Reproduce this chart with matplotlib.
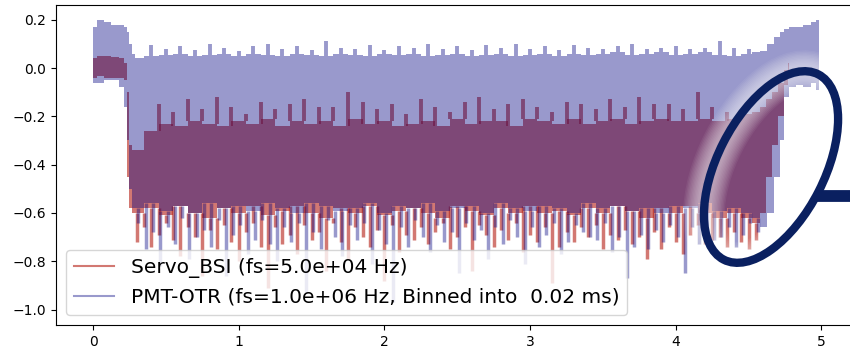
import numpy as np
import matplotlib.pyplot as plt
import matplotlib.patheffects as pe
from matplotlib.patches import Ellipse
from matplotlib.lines import Line2D
from matplotlib.transforms import IdentityTransform

# Servo_BSI: envelope of the dense trace (time in s)
servo_t = [0.0, 0.05, 0.1, 0.15, 0.2, 0.22, 0.24, 0.26, 0.28,
           0.3, 0.4, 0.5, 0.6, 0.7, 0.8, 0.9, 1.0, 1.1, 1.2,
           1.3, 1.4, 1.5, 1.6, 1.7, 1.8, 1.9, 2.0, 2.1, 2.2,
           2.3, 2.4, 2.5, 2.6, 2.7, 2.8, 2.9, 3.0, 3.1, 3.2,
           3.3, 3.4, 3.5, 3.6, 3.7, 3.8, 3.9, 4.0, 4.1, 4.2,
           4.3, 4.4, 4.5, 4.55, 4.6, 4.64, 4.68, 4.72, 4.76, 4.78]
servo_hi = [0.04, 0.05, 0.05, 0.045, 0.04, 0.02, -0.1, -0.32, -0.34,
            -0.34, -0.26, -0.23, -0.24, -0.22, -0.23, -0.24, -0.22, -0.23, -0.21,
            -0.24, -0.22, -0.23, -0.22, -0.24, -0.21, -0.23, -0.22, -0.24, -0.23,
            -0.22, -0.24, -0.21, -0.23, -0.22, -0.22, -0.24, -0.21, -0.22, -0.23,
            -0.21, -0.23, -0.22, -0.21, -0.23, -0.22, -0.21, -0.22, -0.22, -0.21,
            -0.22, -0.21, -0.19, -0.18, -0.16, -0.13, -0.1, -0.06, -0.01, 0.02]
servo_lo = [-0.04, -0.035, -0.04, -0.04, -0.04, -0.05, -0.45, -0.58, -0.6,
            -0.6, -0.58, -0.61, -0.57, -0.6, -0.62, -0.58, -0.6, -0.57, -0.61,
            -0.59, -0.57, -0.6, -0.62, -0.58, -0.6, -0.57, -0.61, -0.59, -0.58,
            -0.6, -0.62, -0.57, -0.59, -0.61, -0.58, -0.6, -0.57, -0.6, -0.59,
            -0.61, -0.58, -0.6, -0.57, -0.59, -0.62, -0.58, -0.6, -0.57, -0.6,
            -0.62, -0.6, -0.62, -0.64, -0.6, -0.45, -0.32, -0.2, -0.07, -0.02]

# PMT-OTR (binned): envelope
pmt_t = [0.0, 0.05, 0.1, 0.15, 0.2, 0.22, 0.24, 0.26, 0.28,
         0.3, 0.4, 0.5, 0.6, 0.7, 0.8, 0.9, 1.0, 1.1, 1.2,
         1.3, 1.4, 1.5, 1.6, 1.7, 1.8, 1.9, 2.0, 2.1, 2.2,
         2.3, 2.4, 2.5, 2.6, 2.7, 2.8, 2.9, 3.0, 3.1, 3.2,
         3.3, 3.4, 3.5, 3.6, 3.7, 3.8, 3.9, 4.0, 4.1, 4.2,
         4.3, 4.4, 4.5, 4.55, 4.6, 4.65, 4.7, 4.73, 4.76, 4.8,
         4.85, 4.9, 4.95, 4.98]
pmt_hi = [0.17, 0.2, 0.19, 0.18, 0.18, 0.17, 0.15, 0.1, 0.06,
          0.04, 0.05, 0.055, 0.06, 0.05, 0.055, 0.06, 0.05, 0.06, 0.055,
          0.05, 0.06, 0.055, 0.05, 0.06, 0.055, 0.05, 0.06, 0.055, 0.06,
          0.05, 0.055, 0.06, 0.05, 0.055, 0.06, 0.05, 0.055, 0.06, 0.05,
          0.06, 0.055, 0.06, 0.065, 0.055, 0.06, 0.065, 0.055, 0.06, 0.065,
          0.055, 0.05, 0.06, 0.065, 0.07, 0.1, 0.13, 0.15, 0.16, 0.17,
          0.17, 0.18, 0.19, 0.2]
pmt_lo = [-0.06, -0.06, -0.05, -0.05, -0.08, -0.16, -0.3, -0.5, -0.58,
          -0.58, -0.56, -0.59, -0.57, -0.6, -0.56, -0.58, -0.57, -0.59, -0.56,
          -0.58, -0.6, -0.56, -0.57, -0.59, -0.58, -0.56, -0.6, -0.57, -0.58,
          -0.56, -0.59, -0.58, -0.57, -0.6, -0.56, -0.58, -0.59, -0.57, -0.58,
          -0.6, -0.56, -0.58, -0.57, -0.59, -0.58, -0.6, -0.57, -0.58, -0.56,
          -0.59, -0.58, -0.6, -0.62, -0.66, -0.6, -0.45, -0.3, -0.12, -0.08,
          -0.07, -0.08, -0.06, -0.09]

# downward excursions below the envelope (every 0.05 s)
servo_dip_t0 = 0.30
servo_dip_v = [-0.72, -0.66, -0.74, -0.69, -0.64, -0.71, -0.78, -0.66, -0.70, -0.86,
               -0.67, -0.75, -0.65, -0.72, -0.80, -0.68, -0.64, -0.74, -0.91, -0.66,
               -0.73, -0.69, -0.77, -0.65, -0.71, -0.68, -0.84, -0.64, -0.72, -0.79,
               -0.66, -0.70, -0.74, -0.67, -0.88, -0.65, -0.76, -0.69, -0.71, -0.66,
               -0.73, -0.68, -0.64, -0.75, -0.70, -0.66, -0.84, -0.65, -0.69, -0.74,
               -0.67, -0.71, -0.64, -0.76, -0.69, -0.72, -0.66, -0.89, -0.74, -0.68,
               -0.72, -0.66, -0.70, -0.65, -0.75, -0.69, -0.71, -0.67, -0.73, -0.70,
               -0.79, -0.68, -0.75, -0.66, -0.72, -0.77, -0.69, -0.65, -0.73, -0.71,
               -0.70, -0.74, -0.68, -0.72, -0.75, -0.71]
pmt_dip_t0 = 0.312
pmt_dip_v = [-0.64, -0.75, -0.68, -0.82, -0.66, -0.73, -0.62, -0.79, -0.70, -0.67,
             -0.74, -0.63, -0.86, -0.69, -0.65, -0.77, -0.71, -0.63, -0.73, -0.80,
             -0.66, -0.72, -0.64, -0.93, -0.68, -0.75, -0.63, -0.70, -0.78, -0.65,
             -0.71, -0.64, -0.81, -0.67, -0.73, -0.97, -0.66, -0.74, -0.63, -0.70,
             -0.76, -0.65, -0.72, -0.68, -0.85, -0.64, -0.71, -0.67, -0.79, -0.66,
             -0.73, -0.63, -0.70, -0.81, -0.66, -0.74, -0.69, -0.64, -0.77, -0.72,
             -0.65, -0.68, -0.70, -0.71, -0.64, -0.76, -0.70, -0.87, -0.74, -0.69,
             -0.75, -0.67, -0.72, -0.65, -0.70, -0.85, -0.66, -0.73, -0.68, -0.71,
             -0.70, -0.66, -0.74, -0.69, -0.64, -0.68]

# upward excursions above the envelope (every 0.1 s)
servo_peak_t0 = 0.45
servo_peak_v = [-0.15, -0.18, -0.13, -0.17, -0.12, -0.16, -0.19, -0.14, -0.17, -0.15,
                -0.13, -0.16, -0.16, -0.10, -0.14, -0.17, -0.15, -0.19, -0.13, -0.16,
                -0.18, -0.14, -0.12, -0.17, -0.15, -0.13, -0.16, -0.18, -0.14, -0.15,
                -0.17, -0.13, -0.16, -0.12, -0.15, -0.15, -0.17, -0.10, -0.16, -0.18]
pmt_peak_t0 = 0.40
pmt_peak_v = [0.095, 0.08, 0.09, 0.075, 0.1, 0.085, 0.07, 0.09, 0.1, 0.08,
              0.09, 0.075, 0.11, 0.085, 0.08, 0.095, 0.075, 0.09, 0.085, 0.1,
              0.08, 0.09, 0.075, 0.095, 0.085, 0.1, 0.08, 0.09, 0.075, 0.095,
              0.085, 0.08, 0.09, 0.1, 0.08, 0.085, 0.09, 0.08, 0.085, 0.11,
              0.085, 0.08]

servo_label = "Servo_BSI (fs=5.0e+04 Hz)"
pmt_label = "PMT-OTR (fs=1.0e+06 Hz, Binned into  0.02 ms)"

RED = "#b41e14"
BLUE = "navy"
RED_ALPHA = 0.6
BLUE_ALPHA = 0.4
MARK = "#0a2060"


def spike_times(t0, step, values):
    return np.round(t0 + step * np.arange(len(values)), 3)


def edge_at(t_core, v_core, t_spk):
    # value of the step-drawn envelope at the spike positions
    idx = np.abs(np.asarray(t_core)[None, :] - np.asarray(t_spk)[:, None]).argmin(axis=1)
    return np.asarray(v_core)[idx]


def draw_trace(ax, t, lo, hi, dip_t0, dip_v, peak_t0, peak_v, color, alpha, z):
    ax.fill_between(t, lo, hi, step="mid", color=color, alpha=alpha, lw=0, zorder=z)
    td = spike_times(dip_t0, 0.05, dip_v)
    ax.vlines(td, dip_v, edge_at(t, lo, td), color=color, alpha=alpha, lw=2.5, zorder=z)
    tp = spike_times(peak_t0, 0.1, peak_v)
    ax.vlines(tp, edge_at(t, hi, tp), peak_v, color=color, alpha=alpha, lw=2.8, zorder=z)


fig = plt.figure(figsize=(8.5, 3.49), dpi=100)
ax = fig.add_axes([56 / 850, 24 / 349, 799 / 850, 320 / 349])

draw_trace(ax, servo_t, servo_lo, servo_hi, servo_dip_t0, servo_dip_v,
           servo_peak_t0, servo_peak_v, RED, RED_ALPHA, 1.0)
draw_trace(ax, pmt_t, pmt_lo, pmt_hi, pmt_dip_t0, pmt_dip_v,
           pmt_peak_t0, pmt_peak_v, BLUE, BLUE_ALPHA, 1.1)

ax.set_xlim(-0.254, 5.23)
ax.set_ylim(-1.064, 0.261)
ax.set_xticks([0, 1, 2, 3, 4, 5])
ax.set_yticks([-1.0, -0.8, -0.6, -0.4, -0.2, 0.0, 0.2])

handles = [Line2D([], [], color=RED, alpha=RED_ALPHA, lw=1.5),
           Line2D([], [], color=BLUE, alpha=BLUE_ALPHA, lw=1.5)]
ax.legend(handles, [servo_label, pmt_label], loc="lower left", fontsize=14.5)

# highlight ring with a soft white halo, and its connector to the right
glow = [pe.Stroke(linewidth=w, foreground="white", alpha=0.06)
        for w in range(30, 8, -2)] + [pe.Normal()]
ring = Ellipse((771, 182), width=208, height=107, angle=63, fill=False,
               edgecolor=MARK, lw=6.0, transform=IdentityTransform())
ring.set_path_effects(glow)
fig.add_artist(ring)
fig.add_artist(Line2D([815, 860], [153, 153], color=MARK, lw=8.5,
                      solid_capstyle="butt", transform=IdentityTransform()))

fig.savefig("out.png", dpi=100)
